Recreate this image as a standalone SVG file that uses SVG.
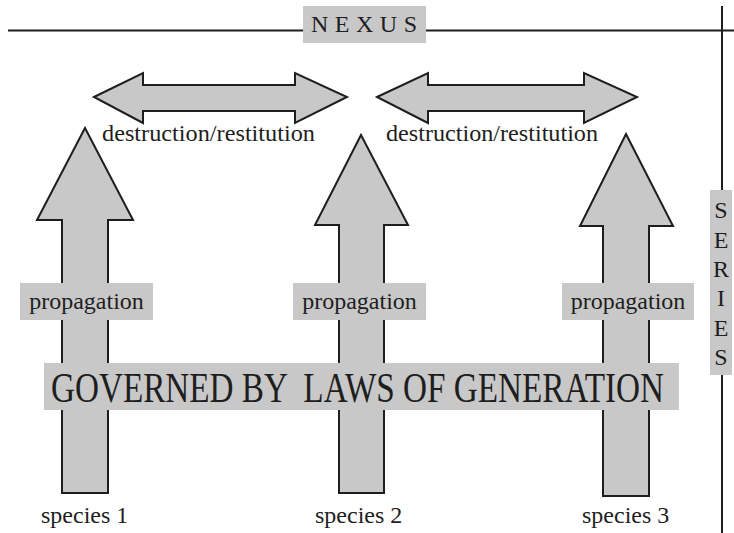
<svg xmlns="http://www.w3.org/2000/svg" width="734" height="533" viewBox="0 0 734 533">
<style>
.arrow{fill:#c8c8c8;stroke:#1e1e1e;stroke-width:2;stroke-linejoin:miter}
.box{fill:#c8c8c8;stroke:none}
.line{stroke:#1e1e1e;stroke-width:2;fill:none}
.t{font-family:"Liberation Serif","Times New Roman",serif;fill:#1e1e1e;font-size:24px}
.cap{font-family:"Liberation Serif","Times New Roman",serif;fill:#1e1e1e;font-size:24px}
.big{font-family:"Liberation Serif","Times New Roman",serif;fill:#1e1e1e;font-size:43px}
</style>
<rect width="734" height="533" fill="#ffffff"/>
<g id="frame">
<line class="line" x1="8" y1="30.5" x2="734" y2="30.5"/>
<line class="line" x1="722" y1="6" x2="722" y2="533"/>
</g>
<g id="nexus">
<rect class="box" x="303" y="6" width="123" height="37"/>
<text class="cap" x="311" y="32" letter-spacing="6.5">NEXUS</text>
</g>
<g id="series">
<rect class="box" x="710" y="190" width="22" height="185"/>
<g class="cap" text-anchor="middle">
<text x="721" y="218">S</text>
<text x="721" y="247.5">E</text>
<text x="721" y="277">R</text>
<text x="721" y="306">I</text>
<text x="721" y="335.5">E</text>
<text x="721" y="365">S</text>
</g>
</g>
<g id="connectors">
<path id="dr1" class="arrow" d="M94,97 L143,73 L143,85 L295,85 L295,73 L347,97 L295,123 L295,111 L143,111 L143,123 Z"/>
<path id="dr2" class="arrow" d="M377,97 L428,73 L428,85 L584,85 L584,73 L637,97 L584,123 L584,111 L428,111 L428,123 Z"/>
<path id="up1" class="arrow" d="M85,128 L133,220 L108,220 L108,493 L62,493 L62,220 L37,220 Z"/>
<path id="up2" class="arrow" d="M361,135 L408,225 L384,225 L384,493 L339,493 L339,225 L315,225 Z"/>
<path id="up3" class="arrow" d="M626,134 L673,226 L649,226 L649,496 L603,496 L603,226 L580,226 Z"/>
</g>
<g id="label-dr1"><text class="t" x="102" y="141" textLength="213" lengthAdjust="spacingAndGlyphs">destruction/restitution</text></g>
<g id="label-dr2"><text class="t" x="386" y="141" textLength="212" lengthAdjust="spacingAndGlyphs">destruction/restitution</text></g>
<g id="prop1">
<rect class="box" x="20" y="283" width="133" height="37"/>
<text class="t" x="86.5" y="309" text-anchor="middle">propagation</text>
</g>
<g id="prop2">
<rect class="box" x="293" y="283" width="133" height="37"/>
<text class="t" x="359.5" y="309" text-anchor="middle">propagation</text>
</g>
<g id="prop3">
<rect class="box" x="562" y="283" width="132" height="37"/>
<text class="t" x="628" y="309" text-anchor="middle">propagation</text>
</g>
<g id="laws">
<rect class="box" x="44" y="363" width="635" height="47"/>
<text class="big" x="51" y="402" textLength="613" lengthAdjust="spacingAndGlyphs" xml:space="preserve">GOVERNED BY  LAWS OF GENERATION</text>
</g>
<g id="species1"><text class="t" x="41" y="523">species 1</text></g>
<g id="species2"><text class="t" x="315" y="523">species 2</text></g>
<g id="species3"><text class="t" x="582" y="523">species 3</text></g>
</svg>
